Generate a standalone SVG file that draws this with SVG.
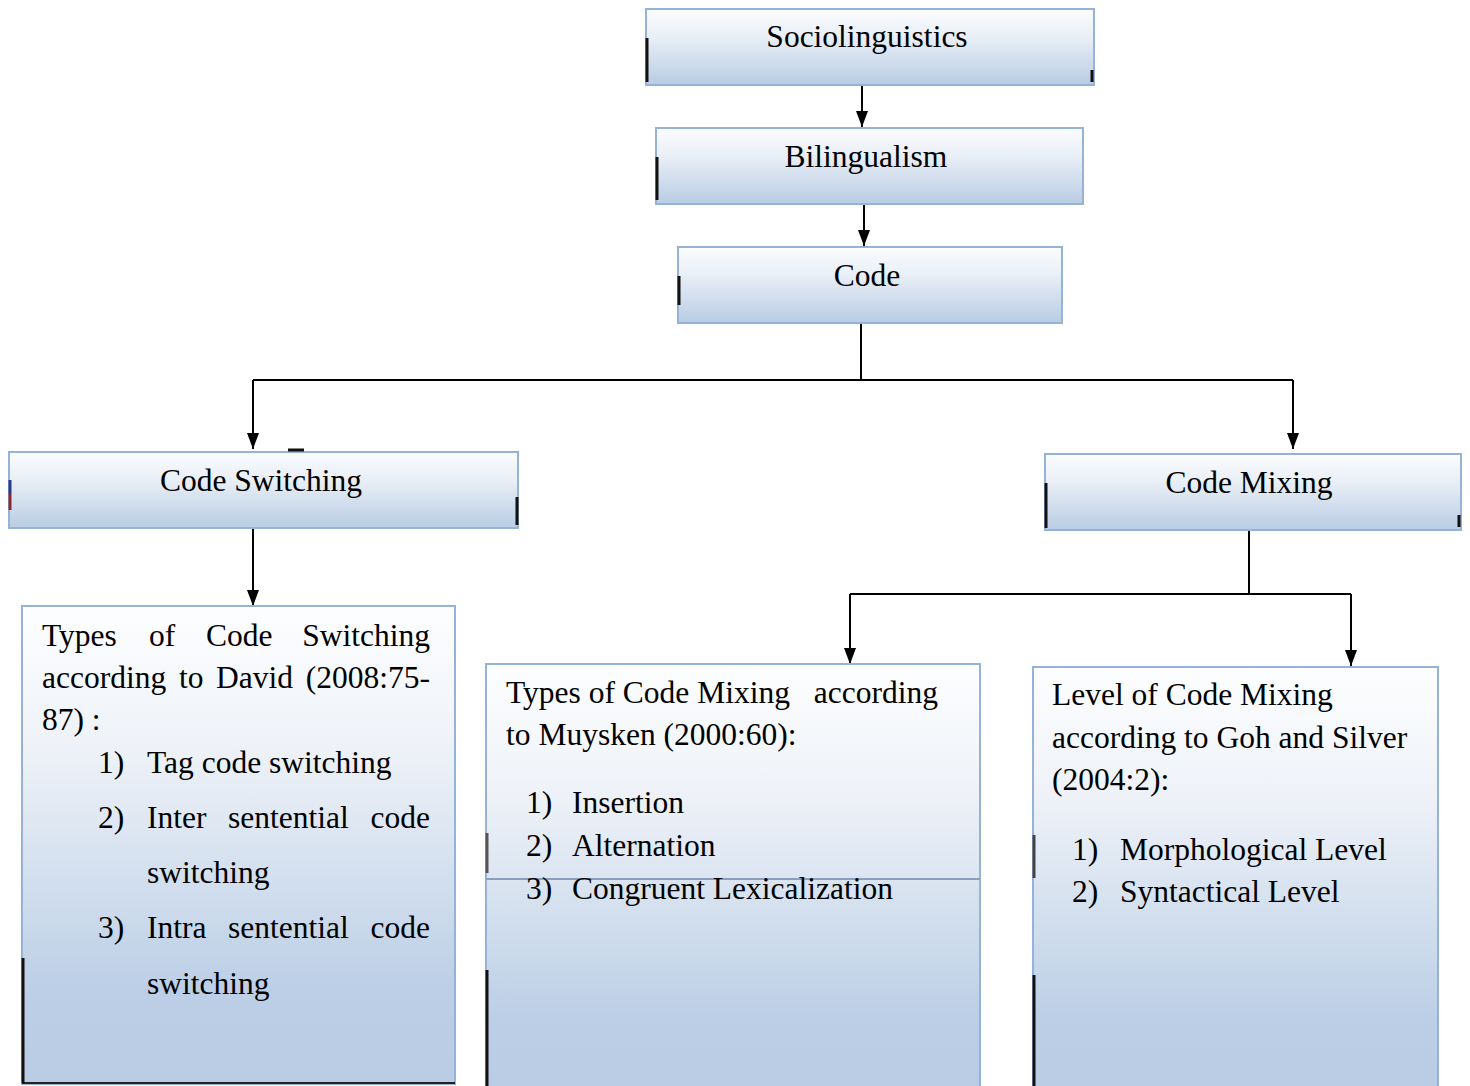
<svg xmlns="http://www.w3.org/2000/svg" width="1470" height="1086" viewBox="0 0 1470 1086">
<defs>
<linearGradient id="gh" x1="0" y1="0" x2="0" y2="1">
<stop offset="0" stop-color="#fbfcfe"/>
<stop offset="0.35" stop-color="#eaf0f7"/>
<stop offset="1" stop-color="#b9cce4"/>
</linearGradient>
<linearGradient id="gt" x1="0" y1="0" x2="0" y2="1">
<stop offset="0" stop-color="#fdfeff"/>
<stop offset="0.3" stop-color="#eef2f8"/>
<stop offset="0.8" stop-color="#bccfe6"/>
<stop offset="1" stop-color="#b9cce4"/>
</linearGradient>
<marker id="ah" viewBox="0 0 16 12" refX="16" refY="6" markerWidth="16" markerHeight="12" markerUnits="userSpaceOnUse" orient="auto">
<path d="M0,0 L16,6 L0,12 Z" fill="#000"/>
</marker>
<style>
.box{stroke:#95b3d7;stroke-width:2}
.hdr{fill:url(#gh)}
.tall{fill:url(#gt)}
text{font-family:"Liberation Serif","Times New Roman",serif;font-size:31.5px;fill:#000}
.c{text-anchor:middle}
.e{text-anchor:end}
.con{stroke:#000;stroke-width:2;fill:none}
.art{stroke:#111;stroke-width:3}
</style>
</defs>

<g id="connectors">
<line class="con" x1="862" y1="85" x2="862" y2="127" marker-end="url(#ah)"/>
<line class="con" x1="864" y1="204" x2="864" y2="246" marker-end="url(#ah)"/>
<polyline class="con" points="861,323 861,380"/>
<polyline class="con" points="253,380 1293,380"/>
<line class="con" x1="253" y1="380" x2="253" y2="449" marker-end="url(#ah)"/>
<line class="con" x1="1293" y1="380" x2="1293" y2="449" marker-end="url(#ah)"/>
<line class="con" x1="253" y1="528" x2="253" y2="606" marker-end="url(#ah)"/>
<polyline class="con" points="1249,530 1249,594"/>
<polyline class="con" points="850,594 1351,594"/>
<line class="con" x1="850" y1="594" x2="850" y2="664" marker-end="url(#ah)"/>
<line class="con" x1="1351" y1="594" x2="1351" y2="666" marker-end="url(#ah)"/>
</g>

<g id="sociolinguistics">
<rect class="box hdr" x="646" y="9" width="448" height="76"/>
<text class="c" x="867" y="47">Sociolinguistics</text>
</g>

<g id="bilingualism">
<rect class="box hdr" x="656" y="128" width="427" height="76"/>
<text class="c" x="866" y="167">Bilingualism</text>
</g>

<g id="code">
<rect class="box hdr" x="678" y="247" width="384" height="76"/>
<text class="c" x="867" y="286">Code</text>
</g>

<g id="code-switching">
<rect class="box hdr" x="9" y="452" width="509" height="76"/>
<text class="c" x="261" y="491">Code Switching</text>
</g>

<g id="code-mixing">
<rect class="box hdr" x="1045" y="454" width="416" height="76"/>
<text class="c" x="1249" y="493">Code Mixing</text>
</g>

<g id="types-code-switching">
<rect class="box tall" x="22" y="606" width="433" height="478"/>
<line x1="22" y1="1083" x2="455" y2="1083" stroke="#222" stroke-width="2"/>
<text x="42" y="646">Types</text>
<text x="149" y="646">of</text>
<text x="206" y="646">Code</text>
<text class="e" x="430" y="646">Switching</text>
<text x="42" y="688">according</text>
<text x="179" y="688">to</text>
<text x="216" y="688">David</text>
<text class="e" x="430" y="688">(2008:75-</text>
<text x="42" y="730">87) :</text>
<text x="98" y="773">1)</text>
<text x="147" y="773">Tag code switching</text>
<text x="98" y="828">2)</text>
<text x="147" y="828">Inter</text>
<text x="228" y="828">sentential</text>
<text class="e" x="430" y="828">code</text>
<text x="147" y="883">switching</text>
<text x="98" y="938">3)</text>
<text x="147" y="938">Intra</text>
<text x="228" y="938">sentential</text>
<text class="e" x="430" y="938">code</text>
<text x="147" y="994">switching</text>
</g>

<g id="types-code-mixing">
<rect class="box tall" x="486" y="664" width="494" height="440"/>
<line x1="486" y1="879" x2="980" y2="879" stroke="#8d9fb8" stroke-width="2"/>
<text x="506" y="703">Types of Code Mixing</text>
<text class="e" x="938" y="703">according</text>
<text x="506" y="745">to Muysken (2000:60):</text>
<text x="526" y="813">1)</text>
<text x="572" y="813">Insertion</text>
<text x="526" y="856">2)</text>
<text x="572" y="856">Alternation</text>
<text x="526" y="899">3)</text>
<text x="572" y="899">Congruent Lexicalization</text>
</g>

<g id="level-code-mixing">
<rect class="box tall" x="1033" y="667" width="405" height="437"/>
<text x="1052" y="705">Level of Code Mixing</text>
<text x="1052" y="748">according to Goh and Silver</text>
<text x="1052" y="790">(2004:2):</text>
<text x="1072" y="860">1)</text>
<text x="1120" y="860">Morphological Level</text>
<text x="1072" y="902">2)</text>
<text x="1120" y="902">Syntactical Level</text>
</g>

<g id="edge-marks">
<line class="art" x1="647" y1="38" x2="647" y2="82"/>
<line class="art" x1="1092" y1="70" x2="1092" y2="82"/>
<line class="art" x1="657" y1="157" x2="657" y2="200"/>
<line class="art" x1="679" y1="276" x2="679" y2="305"/>
<line class="art" x1="1046" y1="483" x2="1046" y2="528"/>
<line class="art" x1="1459" y1="515" x2="1459" y2="527"/>
<line class="art" x1="517" y1="497" x2="517" y2="525"/>
<line x1="10" y1="480" x2="10" y2="494" stroke="#2a3a8c" stroke-width="3"/>
<line x1="10" y1="494" x2="10" y2="510" stroke="#8a2b2b" stroke-width="3"/>
<line x1="288" y1="450" x2="304" y2="450" stroke="#111" stroke-width="3"/>
<line class="art" x1="23" y1="958" x2="23" y2="1083"/>
<line class="art" x1="487" y1="970" x2="487" y2="1086"/>
<line class="art" x1="1034" y1="975" x2="1034" y2="1086"/>
<line x1="1034" y1="835" x2="1034" y2="878" stroke="#444" stroke-width="3"/>
<line x1="487" y1="833" x2="487" y2="873" stroke="#555" stroke-width="3"/>
</g>
</svg>
